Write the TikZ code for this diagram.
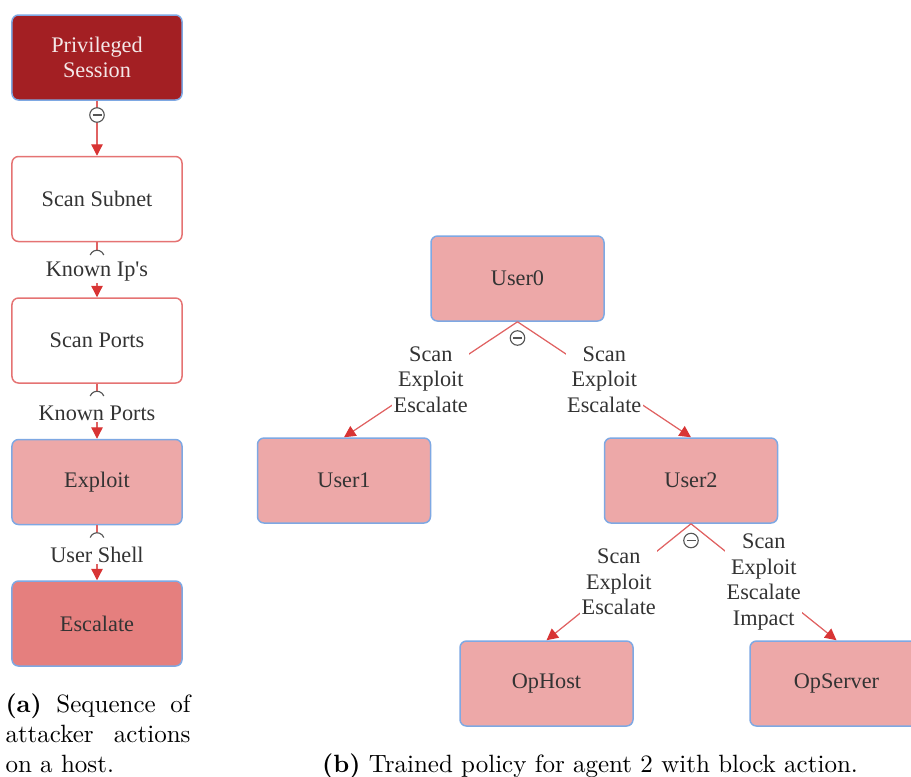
\documentclass[tikz,border=0pt]{standalone}
\usepackage{fontspec}
\usetikzlibrary{arrows.meta}
\newfontfamily\boxfont{Liberation Serif}[Ligatures=TeXOff]
\definecolor{privfill}{HTML}{A31F23}
\definecolor{privtext}{HTML}{F4E8E8}
\definecolor{pinkfill}{HTML}{EDA8A8}
\definecolor{salmonfill}{HTML}{E57F7E}
\definecolor{blueline}{HTML}{7EA8E3}
\definecolor{redline}{HTML}{E57373}
\definecolor{edgered}{HTML}{E06262}
\definecolor{tipred}{HTML}{D83434}
\definecolor{txt}{HTML}{333333}
\definecolor{symgray}{HTML}{555555}

\begin{document}
\begin{tikzpicture}[x=0.4pt,y=-0.4pt,
  boxtext/.style={font=\boxfont\fontsize{8.9}{10.2}\selectfont, text=txt, align=center},
  box/.style={boxtext, rounded corners=2.6pt, minimum height=34pt, line width=0.6pt, inner sep=0pt},
  colbox/.style={box, minimum width=68pt},
  treebox/.style={box, minimum width=69.2pt, draw=blueline, fill=pinkfill},
  edge/.style={draw=edgered, line width=0.5pt,
    -{Triangle[length=4.6pt,width=4.6pt,color=tipred,fill=tipred]}},
  lbl/.style={boxtext, fill=white, inner sep=0.6pt},
  blocksym/.style={circle, draw=symgray, fill=white, line width=0.45pt,
    minimum size=5.8pt, inner sep=0pt,
    path picture={\draw[symgray, line width=0.45pt]
      ([xshift=-1.8pt]path picture bounding box.center) --
      ([xshift=1.8pt]path picture bounding box.center);}},
  halfsym/.style={draw=symgray, line width=0.45pt},
  caption/.style={font=\fontsize{10}{12}\selectfont, text=black, inner sep=0pt}
]
\clip (0,0) rectangle (911,776);

% ---- (a) sequence of attacker actions on a host ----
\node[colbox, draw=blueline, fill=privfill, text=privtext,
      font=\boxfont\fontsize{8.9}{9.8}\selectfont] (priv) at (97,57.5) {Privileged\\Session};
\node[colbox, draw=redline, fill=white] (subnet) at (97,199) {Scan Subnet};
\node[colbox, draw=redline, fill=white] (ports) at (97,340.5) {Scan Ports};
\node[colbox, draw=blueline, fill=pinkfill] (exploit) at (97,482) {Exploit};
\node[colbox, draw=blueline, fill=salmonfill] (escalate) at (97,623.5) {Escalate};

\draw[edge] (priv.south) -- (subnet.north);
\draw[edge] (subnet.south) -- (ports.north);
\draw[edge] (ports.south) -- (exploit.north);
\draw[edge] (exploit.south) -- (escalate.north);

\node[blocksym] (b0) at (97,115) {};
% half-circle start markers, blanked underneath down to the label
\foreach \c in {257.5, 398.5, 540} {
  \coordinate (hc) at (97,\c);
  \fill[white] ([xshift=-2.9pt]hc) arc[start angle=180, end angle=0, radius=2.9pt]
    -- ++(0,-2.5pt) -- ++(-5.8pt,0) -- cycle;
  \draw[halfsym] ([shift={(160:2.9pt)}]hc) arc[start angle=160, end angle=20, radius=2.9pt];
}

% edge labels, set on top of the markers
\path (subnet.south) -- node[lbl, yshift=-0.8pt] (l1) {Known Ip's} (ports.north);
\path (ports.south) -- node[lbl, yshift=-0.8pt] (l2) {Known Ports} (exploit.north);
\path (exploit.south) -- node[lbl, yshift=-0.8pt] (l3) {User Shell} (escalate.north);

\node[caption, anchor=base west, text width=74pt, align=justify] (capa) at (5,712)
  {\textbf{(a)} Sequence of attacker actions on a host.};

% ---- (b) trained policy for agent 2 ----
\node[treebox] (u0) at (517.5,278.5) {User0};
\node[treebox] (u1) at (344,480.5) {User1};
\node[treebox] (u2) at (691,480.5) {User2};
\node[treebox] (oph) at (546.5,683.5) {OpHost};
\node[treebox] (ops) at (836.5,683.5) {OpServer};

\draw[edge] (u0.south) -- node[lbl] (t1) {Scan\\Exploit\\Escalate} (u1.north);
\draw[edge] (u0.south) -- node[lbl] (t2) {Scan\\Exploit\\Escalate} (u2.north);
\draw[edge] (u2.south) -- node[lbl] (t3) {Scan\\Exploit\\Escalate} (oph.north);
\draw[edge] (u2.south) -- node[lbl] (t4) {Scan\\Exploit\\Escalate\\Impact} (ops.north);

\node[blocksym] (b1) at (517.5,338) {};
\node[blocksym] (b2) at (691,540.5) {};

\node[caption, anchor=base] (capb) at (590,772)
  {\textbf{(b)} Trained policy for agent 2 with block action.};
\end{tikzpicture}
\end{document}
